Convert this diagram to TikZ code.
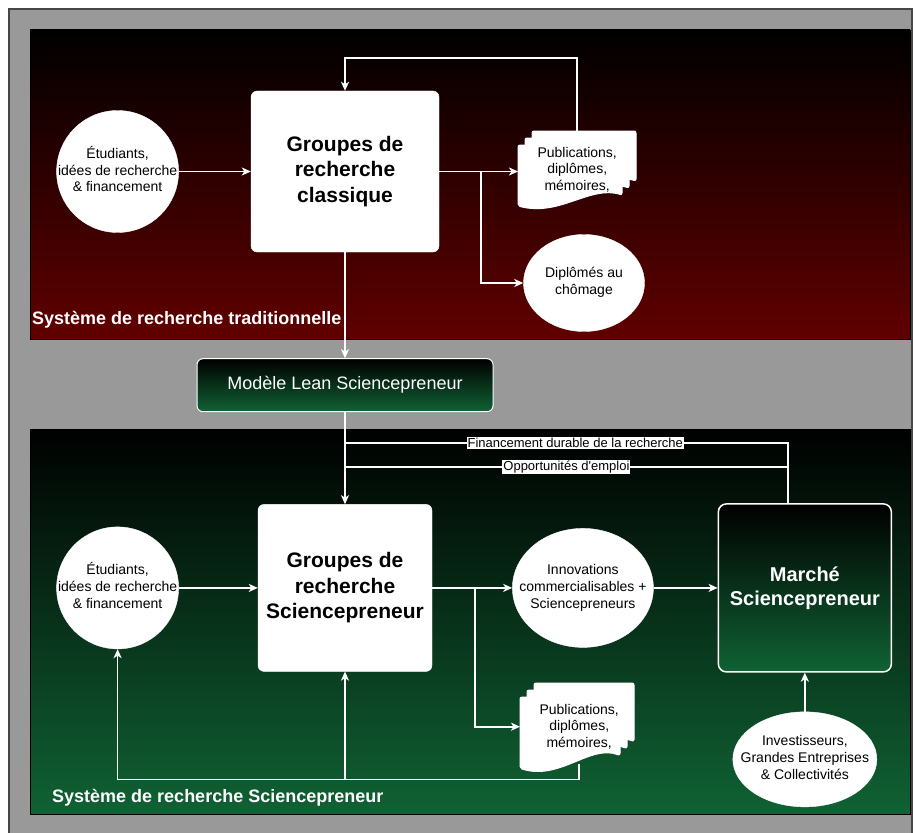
\documentclass[tikz,border=0pt]{standalone}
\usepackage{fontspec}
\setmainfont{Liberation Sans}
\usetikzlibrary{positioning, shapes.geometric, arrows.meta}
\definecolor{redbot}{RGB}{96,0,0}
\definecolor{greenbot}{RGB}{16,98,52}
\definecolor{framegray}{RGB}{153,153,153}
\definecolor{frameline}{RGB}{70,70,70}
\newcommand{\bubbletext}[1]{\makebox[0pt]{\begin{tabular}{@{}c@{}}#1\end{tabular}}}

\begin{document}
\begin{tikzpicture}[x=1pt, y=-1pt,
        wline/.style={draw=white, line width=1.7pt},
        arr/.style={wline, -{Stealth[length=9pt, width=8pt, inset=2.5pt]}},
        bubble/.style={circle, fill=white, draw=white, minimum size=122pt, inner sep=0pt, font=\fontsize{14}{16.8}\selectfont},
        oval/.style={ellipse, fill=white, draw=white, inner sep=0pt, font=\fontsize{14}{16.8}\selectfont},
        groupbox/.style={rectangle, rounded corners=6pt, fill=white, draw=white, align=center, font=\fontsize{21}{25.4}\selectfont\bfseries},
        greenbox/.style={rectangle, rounded corners=6pt, draw=white, line width=1pt, top color=black, bottom color=greenbot, text=white, align=center},
        doctext/.style={minimum width=118pt, minimum height=77pt, inner sep=0pt, align=center, font=\fontsize{14}{16.8}\selectfont},
        docpage/.style={fill=white, draw=white, line width=1pt, rounded corners=2pt},
        edgelbl/.style={fill=white, inner sep=1pt, font=\fontsize{13}{15}\selectfont},
        sysname/.style={text=white, font=\fontsize{18}{21}\selectfont\bfseries, inner sep=0pt, anchor=west}
    ]
        \useasboundingbox (0,0) rectangle (917,832);
        \clip (0,0) rectangle (917,832);
        \fill[white] (0,0) rectangle (917,832);
        \filldraw[fill=framegray, draw=frameline, line width=2pt] (9,9) rectangle (912,850);
        \shadedraw[top color=black, bottom color=redbot, draw=black] (30,30) rectangle (910,339);
        \shadedraw[top color=black, bottom color=greenbot, draw=black] (30,429) rectangle (910,814);

        \node[groupbox, minimum width=188pt, minimum height=161pt] (gclass) at (345,171.5) {Groupes de\\recherche\\classique};
        \node[bubble, left=72pt of gclass] (etud1) {\bubbletext{Étudiants,\\idées de recherche\\\& financement}};
        \coordinate (doc1) at (518,131);
        \foreach \k in {2,1,0}
            \path[docpage, shift={(doc1)}, shift={(7*\k,14-7*\k)}] (0,0) -- (104,0) -- (104,50) .. controls (72,40) and (42,72) .. (0,61) -- cycle;
        \node[doctext, anchor=north west] (pub1) at (doc1) {Publications,\\diplômes,\\mémoires,};
        \node[oval, minimum width=121pt, minimum height=97pt] (chom) at (584,283) {\bubbletext{Diplômés au\\chômage}};
        \node[sysname] (trad) at (32,320) {Système de recherche traditionnelle};

        \node[greenbox, minimum width=296pt, minimum height=53pt, below=106pt of gclass, font=\fontsize{18}{21}\selectfont] (lean) {Modèle Lean Sciencepreneur};
        \coordinate[below=31pt of lean.south] (finj);
        \coordinate[below=55pt of lean.south] (oppj);

        \node[groupbox, minimum width=174pt, minimum height=167pt, below=92pt of lean] (gsci) {Groupes de\\recherche\\Sciencepreneur};
        \node[bubble, left=79pt of gsci] (etud2) {\bubbletext{Étudiants,\\idées de recherche\\\& financement}};
        \node[oval, minimum width=141pt, minimum height=119pt, right=80pt of gsci] (innov) {\bubbletext{Innovations\\commercialisables +\\Sciencepreneurs}};
        \node[greenbox, line width=1.5pt, rounded corners=8pt, minimum width=173pt, minimum height=168pt, right=64pt of innov, font=\fontsize{20}{24}\selectfont\bfseries] (marche) {Marché\\Sciencepreneur};
        \node[oval, minimum width=144pt, minimum height=95pt, below=39pt of marche] (invest) {\bubbletext{Investisseurs,\\Grandes Entreprises\\\& Collectivités}};
        \coordinate (doc2) at (520,683);
        \foreach \k in {2,1,0}
            \path[docpage, shift={(doc2)}, shift={(7*\k,14-7*\k)}, yscale=1.17] (0,0) -- (100,0) -- (100,50) .. controls (70,40) and (40,72) .. (0,61) -- cycle;
        \node[doctext, anchor=north west, minimum height=87pt] (pub2) at (doc2) {Publications,\\diplômes,\\mémoires,};
        \node[sysname] (scsys) at (52,798) {Système de recherche Sciencepreneur};

        \draw[arr] (etud1) -- (gclass);
        \draw[arr] (gclass.east) -- (gclass.east -| pub1.west);
        \draw[arr] ([xshift=42pt]gclass.east) |- (chom);
        \draw[arr] (pub1.north) -- ++(0,-73) -| (gclass.north);
        \draw[arr] (gclass) -- (lean);
        \draw[arr] (lean) -- (gsci);
        \draw[wline] ([xshift=-17pt]marche.north) |- node[edgelbl, pos=0.74] {Financement durable de la recherche} (finj);
        \draw[wline] ([xshift=-17pt]marche.north) |- node[edgelbl, pos=0.75] {Opportunités d\textquotesingle emploi} (oppj);
        \draw[arr] (etud2) -- (gsci);
        \draw[arr] (gsci) -- (innov);
        \draw[arr] ([xshift=43pt]gsci.east) |- (pub2.west);
        \draw[arr] (innov) -- (marche);
        \draw[arr] (invest) -- (marche);
        \draw[arr] ([yshift=6pt]pub2.south) -- ++(0,15) -| (gsci.south);
        \draw[arr] ([yshift=6pt]pub2.south) -- ++(0,15) -| (etud2.south);
    \end{tikzpicture}
\end{document}
